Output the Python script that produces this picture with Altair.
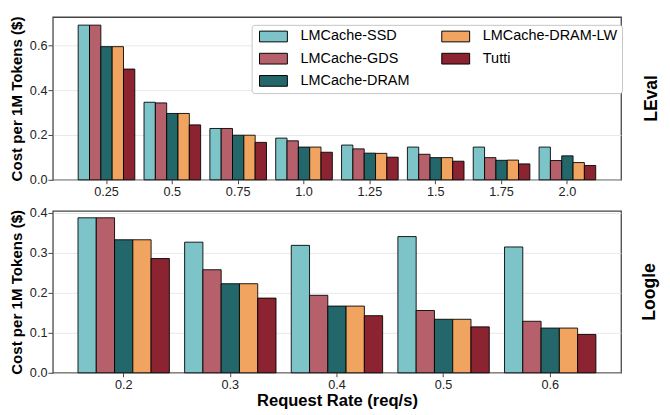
import altair as alt
import pandas as pd

systems = ["LMCache-SSD", "LMCache-GDS", "LMCache-DRAM", "LMCache-DRAM-LW", "Tutti"]
colors = ["#7cc4c7", "#b5606a", "#24676a", "#f0a460", "#8b2331"]

leval_rates = ["0.25", "0.5", "0.75", "1.0", "1.25", "1.5", "1.75", "2.0"]
leval_ssd = [0.690, 0.346, 0.229, 0.186, 0.155, 0.146, 0.146, 0.146]
leval_gds = [0.690, 0.343, 0.229, 0.174, 0.138, 0.114, 0.099, 0.086]
leval_dram = [0.594, 0.296, 0.199, 0.146, 0.119, 0.099, 0.087, 0.107]
leval_lw = [0.594, 0.296, 0.199, 0.146, 0.118, 0.099, 0.088, 0.077]
leval_tutti = [0.494, 0.245, 0.167, 0.123, 0.101, 0.083, 0.071, 0.064]

loogle_rates = ["0.2", "0.3", "0.4", "0.5", "0.6"]
loogle_ssd = [0.388, 0.327, 0.319, 0.341, 0.315]
loogle_gds = [0.388, 0.258, 0.194, 0.156, 0.129]
loogle_dram = [0.333, 0.223, 0.167, 0.134, 0.112]
loogle_lw = [0.333, 0.223, 0.167, 0.134, 0.112]
loogle_tutti = [0.286, 0.187, 0.143, 0.115, 0.096]


def long_df(rates, series):
    rows = []
    for sys_name, vals in zip(systems, series):
        for r, v in zip(rates, vals):
            rows.append({"rate": r, "system": sys_name, "cost": v})
    return pd.DataFrame(rows)


leval_df = long_df(leval_rates, [leval_ssd, leval_gds, leval_dram, leval_lw, leval_tutti])
loogle_df = long_df(loogle_rates, [loogle_ssd, loogle_gds, loogle_dram, loogle_lw, loogle_tutti])

W = 583


def panel(df, rates, ymax, yticks, pi, po, xtitle, label, show_legend, h):
    if show_legend:
        legend = alt.Legend(
            title=None, orient="none", legendX=204, legendY=8, columns=2,
            symbolType="M-0.7,-1H4.5V1H-0.7Z", symbolSize=121,
            symbolStrokeColor="black", symbolStrokeWidth=1, symbolOpacity=1,
            labelFontSize=14.8, labelOffset=30.9, labelColor="black",
            columnPadding=29, rowPadding=6.8, padding=4.5,
            fillColor="white", strokeColor="#c4c4c4", cornerRadius=3,
        )
    else:
        legend = None
    if xtitle is None:
        xaxis = alt.Axis(title=None, labelAngle=0, tickSize=4, labelPadding=2, grid=False)
    else:
        xaxis = alt.Axis(title=xtitle, labelAngle=0, tickSize=4, labelPadding=2,
                         titleFontSize=17, titleFontWeight="bold", titlePadding=2, grid=False)
    return alt.Chart(df).mark_bar(stroke="black", strokeWidth=0.9).encode(
        x=alt.X("rate:N", sort=rates, scale=alt.Scale(paddingInner=pi, paddingOuter=po), axis=xaxis),
        xOffset=alt.XOffset("system:N", sort=systems, scale=alt.Scale(paddingInner=0, paddingOuter=0)),
        y=alt.Y("cost:Q", scale=alt.Scale(domain=[0, ymax], nice=False),
                axis=alt.Axis(values=yticks, format=".1f", title="Cost per 1M Tokens ($)",
                              titleFontSize=15.5, titleFontWeight="bold", titlePadding=5.5,
                              tickSize=5, labelPadding=1, grid=True)),
        color=alt.Color("system:N", scale=alt.Scale(domain=systems, range=colors), legend=legend),
    ).properties(
        width=W, height=h,
        title=alt.TitleParams(text=label, orient="right", angle=270, fontSize=18,
                              fontWeight="bold", offset=3, anchor="middle", color="black"),
    )


top = panel(leval_df, leval_rates, 0.726, [0, 0.2, 0.4, 0.6], 0.14, 0.385, None, "LEval", True, 167)
bottom = panel(loogle_df, loogle_rates, 0.405, [0, 0.1, 0.2, 0.3, 0.4], 0.143, 0.236,
               "Request Rate (req/s)", "Loogle", False, 166)

chart = alt.vconcat(top, bottom, spacing=7).resolve_scale(
    color="independent", x="independent", y="independent", xOffset="independent"
).properties(
    padding={"left": 0, "top": 2, "right": 0, "bottom": 0}
).configure(
    font="Liberation Sans"
).configure_axis(
    labelFontSize=13, labelColor="#222222", titleColor="black",
    tickColor="#444444", domain=False, gridColor="#e2e2e2", gridWidth=0.8,
).configure_view(
    stroke="#444444", strokeWidth=1.3
)

chart.save("out.html", embed_options={"renderer": "svg", "actions": False})
